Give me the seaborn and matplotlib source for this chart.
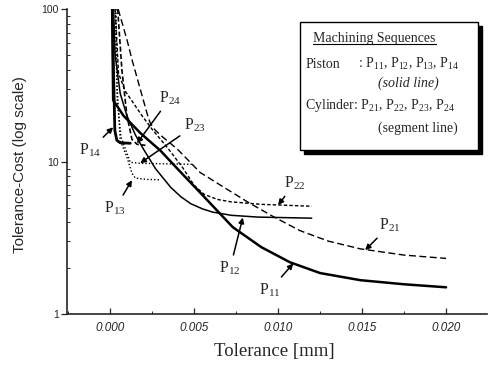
import pandas as pd
import matplotlib
matplotlib.use("Agg")
import matplotlib.pyplot as plt
import seaborn as sns
from matplotlib.patches import Rectangle
from matplotlib.ticker import FixedLocator, NullFormatter, FuncFormatter

# values (tolerance in mm, cost on log scale)
p11_x = [0.00012, 0.00018, 0.0008, 0.0018, 0.0030, 0.0040, 0.0054, 0.0073, 0.0090, 0.0107, 0.0125, 0.0149, 0.0175, 0.0200]
p11_y = [100, 25.3, 20.0, 15.4, 11.8, 9.0, 6.2, 3.72, 2.75, 2.19, 1.86, 1.67, 1.57, 1.50]
p12_x = [0.00020, 0.0003, 0.0006, 0.0010, 0.0015, 0.0020, 0.0027, 0.0036, 0.0042, 0.0048, 0.0055, 0.0061, 0.0072, 0.0088, 0.0120]
p12_y = [100, 50, 28, 20, 15, 12, 9.0, 6.8, 5.9, 5.3, 4.9, 4.67, 4.45, 4.33, 4.26]
p13_x = [0.00035, 0.00042, 0.0006, 0.0010, 0.0013, 0.0015, 0.0022, 0.0030]
p13_y = [100, 30.8, 13.8, 10.7, 8.4, 7.8, 7.65, 7.6]
p14_x = [0.00015, 0.00020, 0.00028, 0.00040, 0.0006, 0.0012]
p14_y = [100, 40, 16, 13.8, 13.3, 13.2]

p21_x = [0.00048, 0.00101, 0.00131, 0.00226, 0.0024, 0.00268, 0.0031, 0.0040, 0.00536, 0.0068, 0.0082,
         0.0097, 0.0113, 0.0130, 0.0149, 0.0175, 0.0200]
p21_y = [100, 62.6, 46.3, 19.6, 17.8, 16.1, 14.6, 12.1, 8.49, 6.76, 5.43, 4.37, 3.53, 3.01, 2.68, 2.44, 2.32]
p22_x = [0.00030, 0.0005, 0.0009, 0.0013, 0.0019, 0.0025, 0.0034, 0.0043, 0.0050, 0.0056, 0.0064, 0.0072, 0.0090, 0.0120]
p22_y = [100, 38, 29, 25, 20, 16.3, 12.4, 9.2, 7.0, 6.1, 5.65, 5.45, 5.25, 5.1]
p23_x = [0.00030, 0.00042, 0.00065, 0.0012, 0.0018, 0.0050]
p23_y = [100, 25.3, 14.5, 9.9, 9.75, 9.6]
p24_x = [0.00045, 0.0007, 0.0010, 0.0013, 0.0016, 0.0021]
p24_y = [100, 40, 20, 14, 13, 12.8]

sequences = ["P11", "P12", "P13", "P14", "P21", "P22", "P23", "P24"]
xs = [p11_x, p12_x, p13_x, p14_x, p21_x, p22_x, p23_x, p24_x]
ys = [p11_y, p12_y, p13_y, p14_y, p21_y, p22_y, p23_y, p24_y]

df = pd.concat([pd.DataFrame({"seq": s, "tol": x, "cost": y})
                for s, x, y in zip(sequences, xs, ys)], ignore_index=True)

line_styles = {
    "P11": ("-", 1.8), "P12": ("-", 1.1), "P13": ((0, (1, 1.5)), 1.0), "P14": ("-", 2.0),
    "P21": ((0, (5, 2.5)), 1.0), "P22": ((0, (2.5, 1.5)), 1.0),
    "P23": ((0, (1, 1.5)), 1.0), "P24": ((0, (3, 1.5)), 1.2),
}

sns.set_style("ticks")
plt.rcParams['font.family'] = ['Liberation Serif', 'DejaVu Serif']
plt.rcParams['mathtext.fontset'] = 'custom'
plt.rcParams['mathtext.rm'] = 'Liberation Serif'
plt.rcParams['mathtext.it'] = 'Liberation Serif:italic'

fig = plt.figure(figsize=(4.9, 3.67), dpi=100)
ax = fig.add_axes([0.137, 0.144, 0.857, 0.831])

for s in sequences:
    ls, lw = line_styles[s]
    sns.lineplot(data=df[df.seq == s], x="tol", y="cost", sort=False, estimator=None,
                 color="black", lw=lw, linestyle=ls, ax=ax)

ax.set_yscale("log")
ax.set_xlim(-0.00256, 0.02244)
ax.set_ylim(1, 100)
sns.despine(ax=ax)

ax.xaxis.set_major_locator(FixedLocator([0.0, 0.005, 0.010, 0.015, 0.020]))
ax.xaxis.set_minor_locator(FixedLocator([-0.0025, 0.0025, 0.0075, 0.0125, 0.0175, 0.0225]))
ax.xaxis.set_major_formatter(FuncFormatter(lambda v, p: f"{v:.3f}"))
ax.yaxis.set_major_formatter(FuncFormatter(lambda v, p: f"{v:g}"))
ax.yaxis.set_minor_formatter(NullFormatter())
ax.tick_params(axis="x", which="major", direction="in", length=4, width=0.9, pad=6)
ax.tick_params(axis="x", which="minor", direction="in", length=2.5, width=0.7)
ax.tick_params(axis="y", which="major", direction="out", length=4, width=0.9, pad=2)
ax.tick_params(axis="y", which="minor", direction="in", length=2.5, width=0.7)
for lab in ax.get_xticklabels():
    lab.set_family(['Liberation Sans'])
    lab.set_style('italic')
    lab.set_fontsize(8.5)
for lab in ax.get_yticklabels():
    lab.set_family(['Liberation Sans'])
    lab.set_fontsize(7.5)
for sp in ax.spines.values():
    sp.set_linewidth(1.2)

ax.set_xlabel("Tolerance [mm]", fontsize=13.5)
ax.xaxis.set_label_coords(0.494, -0.095)
ax.set_ylabel("Tolerance-Cost (log scale)", fontsize=11, family=['Liberation Sans'])
ax.yaxis.set_label_coords(-0.095, 0.49)

# curve labels with arrows: (subscript, text xy, arrow tip xy)
curve_labels = [
    ("24", (0.00357, 26.1), (0.0016, 13.2)),
    ("23", (0.00506, 17.3), (0.00179, 9.78)),
    ("14", (-0.00119, 11.9), (0.00018, 16.8)),
    ("13", (0.0003, 4.95), (0.0013, 7.56)),
    ("22", (0.0110, 7.22), (0.0100, 5.19)),
    ("21", (0.01667, 3.83), (0.01518, 2.63)),
    ("11", (0.00952, 1.44), (0.0109, 2.15)),
    ("12", (0.00714, 2.0), (0.0079, 4.3)),
]
for sub, txy, tip in curve_labels:
    ax.annotate(rf"P$_{{{sub}}}$", xy=tip, xytext=txy, fontsize=11.5, ha="center", va="center",
                arrowprops=dict(arrowstyle="-|>", color="black", lw=1.1,
                                mutation_scale=8, shrinkA=1, shrinkB=0))

# boxed legend with drop shadow
bx, by, bw, bh = 0.555, 0.538, 0.424, 0.419
ax.add_patch(Rectangle((bx + 0.01, by - 0.013), bw, bh, transform=ax.transAxes,
                       facecolor="black", edgecolor="black", zorder=5, clip_on=False))
ax.add_patch(Rectangle((bx, by), bw, bh, transform=ax.transAxes,
                       facecolor="white", edgecolor="black", lw=1.0, zorder=6, clip_on=False))
title = ax.text(0.586, 0.905, "Machining Sequences", transform=ax.transAxes,
                fontsize=10, va="center", ha="left", zorder=7)
ax.text(0.567, 0.82, "Piston", transform=ax.transAxes, fontsize=10, va="center", zorder=7)
ax.text(0.693, 0.82, r": P$_{11}$, P$_{12}$, P$_{13}$, P$_{14}$", transform=ax.transAxes,
        fontsize=10, va="center", zorder=7)
ax.text(0.74, 0.757, "(solid line)", transform=ax.transAxes, fontsize=10,
        style="italic", va="center", zorder=7)
ax.text(0.567, 0.685, r"Cylinder: P$_{21}$, P$_{22}$, P$_{23}$, P$_{24}$", transform=ax.transAxes,
        fontsize=10, va="center", zorder=7)
ax.text(0.74, 0.61, "(segment line)", transform=ax.transAxes, fontsize=10,
        va="center", zorder=7)

fig.canvas.draw()
bb = title.get_window_extent().transformed(ax.transAxes.inverted())
ax.plot([bb.x0, bb.x1], [bb.y0 + 0.002, bb.y0 + 0.002], transform=ax.transAxes,
        color="black", lw=0.8, zorder=7, clip_on=False)

fig.savefig("out.png", dpi=100)
